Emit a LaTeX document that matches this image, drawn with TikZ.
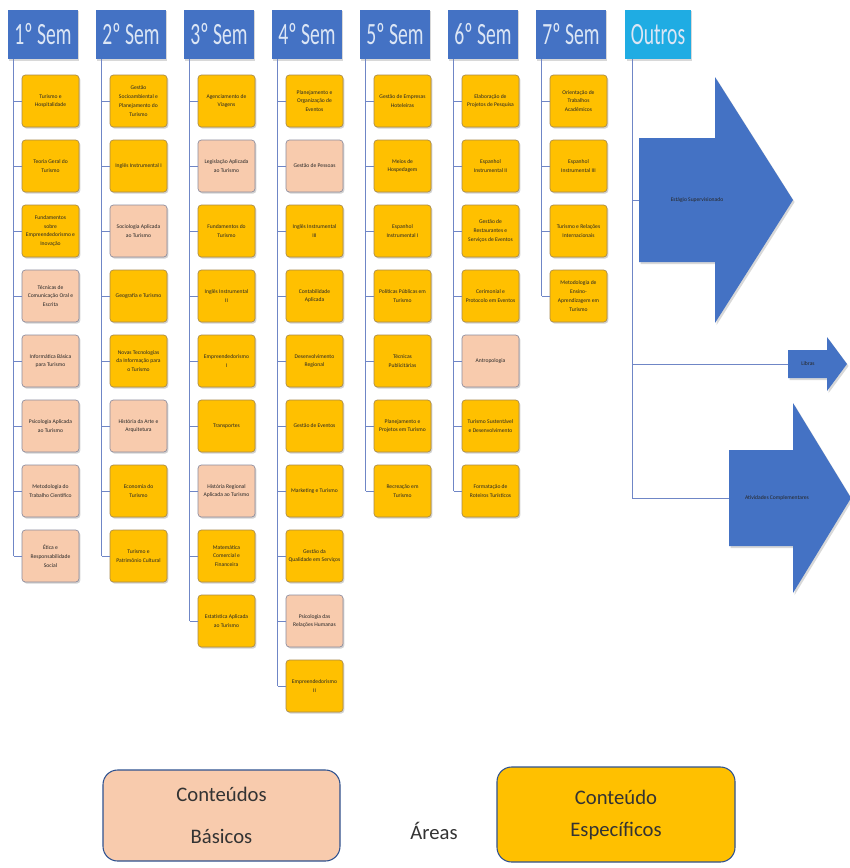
\documentclass[tikz,border=0pt]{standalone}
\usepackage{fontspec}
\setmainfont{Carlito}
\usetikzlibrary{shadows}
\definecolor{hblue}{HTML}{4472C4}
\definecolor{hcyan}{HTML}{1FACE3}
\definecolor{cyel}{HTML}{FFC000}
\definecolor{cyelb}{HTML}{A88A4A}
\definecolor{cpink}{HTML}{F8CBAD}
\definecolor{cpinkb}{HTML}{8C8C9E}
\definecolor{lineblue}{HTML}{6F86C6}
\definecolor{legb}{HTML}{2F528F}
\definecolor{htext}{HTML}{DCE6F5}
\tikzset{
  coursebox/.style={rounded corners=2.5pt, minimum width=42.75pt, minimum height=39pt,
    align=center, inner sep=0.5pt, line width=0.5pt, text=black!85,
    font=\fontsize{4.2}{6.6}\selectfont,
    drop shadow={shadow xshift=1pt, shadow yshift=-1.2pt, opacity=0.35}},
  ybox/.style={coursebox, fill=cyel, draw=cyelb},
  pbox/.style={coursebox, fill=cpink, draw=cpinkb},
  hdr/.style={fill=hblue, minimum width=52.5pt, minimum height=37pt, inner sep=0pt,
    text=htext, font=\fontsize{16}{16}\selectfont,
    drop shadow={shadow xshift=1pt, shadow yshift=-1.2pt, opacity=0.3}},
  conn/.style={draw=lineblue, line width=0.7pt},
  arrowfill/.style={fill=hblue, drop shadow={shadow xshift=1.2pt, shadow yshift=-1.5pt, opacity=0.3}},
  arrlabel/.style={font=\fontsize{4.2}{5}\selectfont, text=black!85, inner sep=0pt},
  legbox/.style={draw=legb, line width=0.8pt, rounded corners=11pt, align=center, text=black!80},
}
\newcommand\course[4]{%
  \node[#3] (c#1-#2) at ({50.5+88*(#1-1)},{101+65*(#2-1)}) {#4};
  \coordinate (k#1-#2) at ([xshift=-6pt]c#1-#2.west);
  \draw[conn] (k#1-#2) -- (c#1-#2.west);
}
\newcommand\hdrtext[1]{\scalebox{0.92}[1.45]{#1}}
\begin{document}
\begin{tikzpicture}[x=0.75pt,y=-0.75pt]
\useasboundingbox (0,0) rectangle (850,868);
\fill[white] (0,0) rectangle (850,868);

% headers
\node[hdr] (h1) at (43,34.5) {\hdrtext{1º Sem}};
\node[hdr] (h2) at (131,34.5) {\hdrtext{2º Sem}};
\node[hdr] (h3) at (219,34.5) {\hdrtext{3º Sem}};
\node[hdr] (h4) at (307,34.5) {\hdrtext{4º Sem}};
\node[hdr] (h5) at (395,34.5) {\hdrtext{5º Sem}};
\node[hdr] (h6) at (483,34.5) {\hdrtext{6º Sem}};
\node[hdr] (h7) at (571,34.5) {\hdrtext{7º Sem}};
\node[hdr, fill=hcyan, minimum width=49pt] (h8) at (658,34.5) {\hdrtext{Outros}};

% column 1
\course{1}{1}{ybox}{Turismo e\\Hospitalidade}
\course{1}{2}{ybox}{Teoria Geral do\\Turismo}
\course{1}{3}{ybox}{Fundamentos\\sobre\\Empreendedorismo e\\Inovação}
\course{1}{4}{pbox}{Técnicas de\\Comunicação Oral e\\Escrita}
\course{1}{5}{pbox}{Informática Básica\\para Turismo}
\course{1}{6}{pbox}{Psicologia Aplicada\\ao Turismo}
\course{1}{7}{pbox}{Metodologia do\\Trabalho Científico}
\course{1}{8}{pbox}{Ética e\\Responsabilidade\\Social}

% column 2
\course{2}{1}{ybox}{Gestão\\Socioambiental e\\Planejamento do\\Turismo}
\course{2}{2}{ybox}{Inglês Instrumental I}
\course{2}{3}{pbox}{Sociologia Aplicada\\ao Turismo}
\course{2}{4}{ybox}{Geografia e Turismo}
\course{2}{5}{ybox}{Novas Tecnologias\\da Informação para\\o Turismo}
\course{2}{6}{pbox}{História da Arte e\\Arquitetura}
\course{2}{7}{ybox}{Economia do\\Turismo}
\course{2}{8}{ybox}{Turismo e\\Patrimônio Cultural}

% column 3
\course{3}{1}{ybox}{Agenciamento de\\Viagens}
\course{3}{2}{pbox}{Legislação Aplicada\\ao Turismo}
\course{3}{3}{ybox}{Fundamentos do\\Turismo}
\course{3}{4}{ybox}{Inglês Instrumental\\II}
\course{3}{5}{ybox}{Empreendedorismo\\I}
\course{3}{6}{ybox}{Transportes}
\course{3}{7}{pbox}{História Regional\\Aplicada ao Turismo}
\course{3}{8}{ybox}{Matemática\\Comercial e\\Financeira}
\course{3}{9}{ybox}{Estatística Aplicada\\ao Turismo}

% column 4
\course{4}{1}{ybox}{Planejamento e\\Organização de\\Eventos}
\course{4}{2}{pbox}{Gestão de Pessoas}
\course{4}{3}{ybox}{Inglês Instrumental\\III}
\course{4}{4}{ybox}{Contabilidade\\Aplicada}
\course{4}{5}{ybox}{Desenvolvimento\\Regional}
\course{4}{6}{ybox}{Gestão de Eventos}
\course{4}{7}{ybox}{Marketing e Turismo}
\course{4}{8}{ybox}{Gestão da\\Qualidade em Serviços}
\course{4}{9}{pbox}{Psicologia das\\Relações Humanas}
\course{4}{10}{ybox}{Empreendedorismo\\II}

% column 5
\course{5}{1}{ybox}{Gestão de Empresas\\Hoteleiras}
\course{5}{2}{ybox}{Meios de\\Hospedagem}
\course{5}{3}{ybox}{Espanhol\\Instrumental I}
\course{5}{4}{ybox}{Políticas Públicas em\\Turismo}
\course{5}{5}{ybox}{Técnicas\\Publicitárias}
\course{5}{6}{ybox}{Planejamento e\\Projetos em Turismo}
\course{5}{7}{ybox}{Recreação em\\Turismo}

% column 6
\course{6}{1}{ybox}{Elaboração de\\Projetos de Pesquisa}
\course{6}{2}{ybox}{Espanhol\\Instrumental II}
\course{6}{3}{ybox}{Gestão de\\Restaurantes e\\Serviços de Eventos}
\course{6}{4}{ybox}{Cerimonial e\\Protocolo em Eventos}
\course{6}{5}{pbox}{Antropologia}
\course{6}{6}{ybox}{Turismo Sustentável\\e Desenvolvimento}
\course{6}{7}{ybox}{Formatação de\\Roteiros Turísticos}

% column 7
\course{7}{1}{ybox}{Orientação de\\Trabalhos\\Acadêmicos}
\course{7}{2}{ybox}{Espanhol\\Instrumental III}
\course{7}{3}{ybox}{Turismo e Relações\\Internacionais}
\course{7}{4}{ybox}{Metodologia de\\Ensino-\\Aprendizagem em\\Turismo}

% vertical connectors
\foreach \c/\n in {1/8,2/8,3/9,4/10,5/7,6/7,7/4}{
  \draw[conn] (k\c-1 |- h\c.south) -- (k\c-\n);
}

% Outros arrows
\path[arrowfill] (639,138) -- (715,138) -- (715,77) -- (793,200) -- (715,323) -- (715,262) -- (639,262) -- cycle;
\path[arrowfill] (788,350) -- (827,350) -- (827,337) -- (847,364) -- (827,391) -- (827,378) -- (788,378) -- cycle;
\path[arrowfill] (729,450) -- (793,450) -- (793,403) -- (851,498) -- (793,593) -- (793,546) -- (729,546) -- cycle;
\coordinate (a1w) at (639,200);
\coordinate (a2w) at (788,364);
\coordinate (a3w) at (729,498);
\node[arrlabel] (a1) at (697,200) {Estágio Supervisionado};
\node[arrlabel] (a2) at (808,364) {Libras};
\node[arrlabel] (a3) at (777,498) {Atividades Complementares};
\coordinate (o1) at (632,200);
\coordinate (o2) at (632,364);
\coordinate (o3) at (632,498);
\draw[conn] (o1 |- h8.south) -- (o3);
\draw[conn] (o1) -- (a1w);
\draw[conn] (o2) -- (a2w);
\draw[conn] (o3) -- (a3w);

% legend
\node[legbox, fill=cpink, minimum width=177.75pt, minimum height=68.25pt,
  font=\fontsize{15.5}{32}\selectfont] (lp) at (221.5,815.5) {Conteúdos\\Básicos};
\node[font=\fontsize{15.5}{18}\selectfont, text=black!80] (ar) at (434,831) {Áreas};
\node[legbox, fill=cyel, minimum width=178.5pt, minimum height=71.25pt,
  font=\fontsize{15.5}{24}\selectfont] (ly) at (616,814.5) {Conteúdo\\Específicos};
\end{tikzpicture}
\end{document}
